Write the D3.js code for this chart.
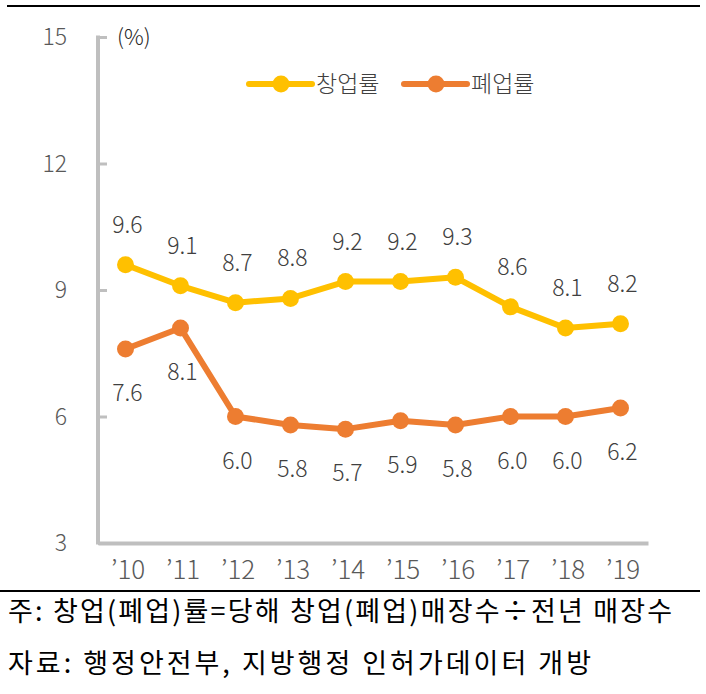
<!DOCTYPE html>
<html>
<head>
<meta charset="utf-8">
<script src="https://cdn.jsdelivr.net/npm/d3@7"></script>
<style>
  body { margin: 0; background: #fff; }
  text { font-family: "Noto Sans CJK KR", "Noto Sans", sans-serif; }
</style>
</head>
<body>
<div id="chart"></div>
<script>
// data
const years = ["’10", "’11", "’12", "’13", "’14", "’15", "’16", "’17", "’18", "’19"];
const openRate = [9.6, 9.1, 8.7, 8.8, 9.2, 9.2, 9.3, 8.6, 8.1, 8.2];
const closeRate = [7.6, 8.1, 6.0, 5.8, 5.7, 5.9, 5.8, 6.0, 6.0, 6.2];
const yTicks = [3, 6, 9, 12, 15];
const seriesNames = ["창업률", "폐업률"];
const notes = ["주: 창업(폐업)률=당해 창업(폐업)매장수÷전년 매장수", "자료: 행정안전부, 지방행정 인허가데이터 개방"];

const W = 706, H = 694;
const colors = ["#FFC000", "#ED7D31"];

const svg = d3.select("#chart")
  .append("svg")
    .attr("width", W)
    .attr("height", H);

// frame lines top and bottom
svg.append("line").attr("x1", 7).attr("x2", 700).attr("y1", 6).attr("y2", 6)
  .attr("stroke", "#000").attr("stroke-width", 2);
svg.append("line").attr("x1", 0).attr("x2", 700).attr("y1", 591).attr("y2", 591)
  .attr("stroke", "#000").attr("stroke-width", 2);

const x = d3.scaleBand()
  .domain(years)
  .range([98, 648]);

const y = d3.scaleLinear()
  .domain([3, 15])
  .range([543, 37]);

// y axis
const yAxis = svg.append("g")
  .attr("transform", "translate(98,0)")
  .call(d3.axisRight(y).tickValues(yTicks).tickSize(9).tickFormat(""));
yAxis.select(".domain").remove();
yAxis.selectAll(".tick line").attr("stroke", "#bfbfbf").attr("stroke-width", 3);
svg.append("line")
  .attr("x1", 98).attr("x2", 98).attr("y1", 35.5).attr("y2", 544.5)
  .attr("stroke", "#bfbfbf").attr("stroke-width", 4);

svg.selectAll(".ylab")
  .data(yTicks)
  .enter()
  .append("text")
    .attr("x", 67)
    .attr("y", d => y(d))
    .attr("dy", "0.35em")
    .attr("text-anchor", "end")
    .attr("font-size", 23)
    .attr("font-weight", 300)
    .attr("fill", "#595959")
    .text(d => d);

svg.append("text")
  .attr("x", 117).attr("y", 37).attr("dy", "0.35em")
  .attr("font-size", 22).attr("font-weight", 300).attr("fill", "#262626")
  .text("(%)");

// x axis
const xAxis = svg.append("g")
  .attr("transform", "translate(0,543)")
  .call(d3.axisBottom(x).tickSize(0).tickPadding(18));
xAxis.select(".domain").attr("stroke", "#bfbfbf").attr("stroke-width", 4);
xAxis.selectAll("text")
  .attr("font-size", 26)
  .attr("font-weight", 300)
  .attr("fill", "#595959")
  .attr("font-family", "\"Noto Sans CJK KR\", sans-serif")
  .attr("dx", "0.1em");

const cx = d => x(d) + x.bandwidth() / 2;
const line = d3.line()
  .x((d, i) => cx(years[i]))
  .y(d => y(d));

[openRate, closeRate].forEach((vals, k) => {
  svg.append("path")
    .datum(vals)
    .attr("fill", "none")
    .attr("stroke", colors[k])
    .attr("stroke-width", 6)
    .attr("stroke-linejoin", "round")
    .attr("d", line);
  svg.selectAll(".pt" + k)
    .data(vals)
    .enter()
    .append("circle")
      .attr("cx", (d, i) => cx(years[i]))
      .attr("cy", d => y(d))
      .attr("r", 8.5)
      .attr("fill", colors[k]);
  svg.selectAll(".lab" + k)
    .data(vals)
    .enter()
    .append("text")
      .attr("x", (d, i) => cx(years[i]) + 2)
      .attr("y", d => y(d) + (k === 0 ? -40 : 44))
      .attr("dy", "0.35em")
      .attr("text-anchor", "middle")
      .attr("font-size", 23)
      .attr("font-weight", 300)
      .attr("fill", "#404040")
      .text(d => d.toFixed(1));
});

// legend
const legX = [249, 404];
seriesNames.forEach((name, k) => {
  const g = svg.append("g").attr("transform", `translate(${legX[k]},84)`);
  g.append("line").attr("x1", 0).attr("x2", 63).attr("y1", 0).attr("y2", 0)
    .attr("stroke", colors[k]).attr("stroke-width", 6).attr("stroke-linecap", "round");
  g.append("circle").attr("cx", 32).attr("cy", 0).attr("r", 8.5).attr("fill", colors[k]);
  g.append("text").attr("x", 67).attr("y", 0).attr("dy", "0.35em")
    .attr("font-size", 23).attr("font-weight", 300).attr("fill", "#404040")
    .text(name);
});

// notes
const noteLen = [664, 583];
notes.forEach((t, i) => {
  svg.append("text")
    .attr("x", 8).attr("y", 612 + i * 52).attr("dy", "0.35em")
    .attr("font-size", 27).attr("fill", "#000")
    .attr("textLength", noteLen[i])
    .attr("lengthAdjust", "spacing")
    .text(t);
});
</script>
</body>
</html>
